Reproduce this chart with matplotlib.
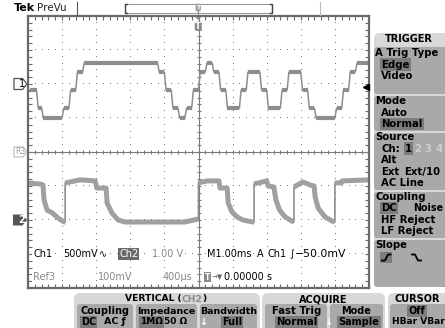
import numpy as np
import matplotlib.pyplot as plt
from matplotlib.patches import FancyBboxPatch, Polygon, Rectangle
from matplotlib.ticker import MultipleLocator

plt.rcParams['font.family'] = ['DejaVu Sans']

# ---- waveforms (time in ms, amplitude in V) ----
# Ch1: 500 mV/div, ground marker 2 div above centre
ch1_v_per_div = 0.5
ch1_offset_div = 2.0
ch1_edge_ms = [-5.0, -4.75, -4.6, -4.0, -3.8, -3.6, -3.4, -1.2, -1.0, -0.8, -0.6,
               -0.4, -0.2, 0.0, 0.2, 0.4, 0.6, 0.8, 1.2, 1.4, 1.8, 2.0, 2.4, 2.6,
               3.0, 3.2, 3.4, 4.0, 4.2, 4.4, 4.6]
ch1_level_v = [-0.09, -0.355, -0.5, -0.355, -0.09, 0.175, 0.31, 0.175, -0.09, -0.355, -0.5,
               -0.355, -0.09, 0.175, 0.31, 0.175, -0.09, -0.355, -0.09, 0.175, -0.09, -0.355, -0.09, 0.175,
               -0.09, -0.355, -0.5, -0.355, -0.09, 0.175, 0.31]

# Ch2: 1.00 V/div, ground marker 2 div below centre
ch2_v_per_div = 1.0
ch2_offset_div = -2.0
ch2_t_ms = [-5.0, -4.65, -4.56, -4.53, -4.44, -4.29, -4.12, -3.94, -3.91,
            -3.91, -3.47, -3.03, -2.98, -2.71, -2.68, -2.54, -2.36, -2.15, -0.4, -0.01, 0.0,
            0.0, 0.25, 0.6, 0.63, 0.84, 0.87, 0.98, 1.13, 1.3, 1.6, 1.63,
            1.63, 2.0, 2.04, 2.21, 2.27, 2.38, 2.54, 2.74, 2.8,
            2.8, 3.06, 3.27, 3.39, 3.42, 3.51, 3.71, 3.92, 4.0,
            4.0, 4.18, 4.21, 5.0]
ch2_v = [1.09, 1.06, 1.03, 0.59, 0.29, 0.21, 0.06, -0.06, -0.06,
         1.09, 1.18, 1.15, 0.94, 0.94, 0.5, 0.21, 0.0, -0.06, -0.06, 0.03, 0.03,
         1.09, 1.15, 1.15, 0.94, 0.94, 0.5, 0.24, 0.09, 0.0, -0.06, -0.06,
         1.06, 1.15, 1.0, 0.97, 0.59, 0.29, 0.09, -0.03, -0.06,
         0.97, 1.12, 1.03, 1.0, 0.68, 0.35, 0.09, -0.03, -0.06,
         1.09, 1.09, 1.15, 1.18]

trig_level_v = -0.05

W, H = 445, 328
gl, gt, gr, gb = 28, 16, 369, 288          # graticule edges in pixels
div_px = (gb - gt) / 8

trace = '#8e8e8e'
trace2 = '#a0a0a0'
grid_c = '#7a7a7a'
frame_c = '#6a6a6a'
light = '#d8d8d8'
mid = '#a9a9a9'
hl = '#7c7c7c'

fig = plt.figure(figsize=(W / 100, H / 100), dpi=100, facecolor='white')
scope = fig.add_axes([gl / W, 1 - gb / H, (gr - gl) / W, (gb - gt) / H], zorder=1)
ui = fig.add_axes([0, 0, 1, 1], zorder=2)
ui.set_xlim(0, W)
ui.set_ylim(H, 0)
ui.axis('off')

# ---- graticule ----
scope.set_xlim(-5, 5)
scope.set_ylim(-4, 4)
for s in scope.spines.values():
    s.set_color(frame_c)
    s.set_linewidth(1.6)
scope.xaxis.set_major_locator(MultipleLocator(1))
scope.xaxis.set_minor_locator(MultipleLocator(0.2))
scope.yaxis.set_major_locator(MultipleLocator(1))
scope.yaxis.set_minor_locator(MultipleLocator(0.2))
scope.tick_params(which='both', direction='in', top=True, right=True, length=3,
                  width=0.8, color=frame_c, labelbottom=False, labelleft=False)

fine_x = np.arange(-5, 5.01, 0.2)
fine_y = np.arange(-4, 4.01, 0.2)
for g in range(-4, 5):
    if g != 0:
        scope.plot(np.full(fine_y.size, g), fine_y, ',', color=grid_c)
for g in range(-3, 4):
    if g != 0:
        scope.plot(fine_x, np.full(fine_x.size, g), ',', color=grid_c)
scope.axhline(0, color=grid_c, lw=0.8)
scope.axvline(0, color=grid_c, lw=0.8)
scope.plot(fine_x, np.zeros(fine_x.size), '|', color=grid_c, ms=3.5, mew=0.8)
scope.plot(np.zeros(fine_y.size), fine_y, '_', color=grid_c, ms=3.5, mew=0.8)

# ---- Ch1 staircase ----
rise = 0.05
ends = ch1_edge_ms[1:] + [5.0]
ch1_div = [v / ch1_v_per_div + ch1_offset_div for v in ch1_level_v]
px, py = [], []
for i, (t0, t1, y) in enumerate(zip(ch1_edge_ms, ends, ch1_div)):
    px += [t0 + (rise if i else 0), t1]
    py += [y, y]
scope.plot(px, py, color=trace, lw=1.1)
scope.hlines(ch1_div, [t + rise for t in ch1_edge_ms], ends, color=trace, lw=3.0)

# ---- Ch2 ----
t2 = np.array(ch2_t_ms)
y2 = np.array(ch2_v) / ch2_v_per_div + ch2_offset_div
scope.plot(t2, y2, color=trace, lw=1.2)
cuts = [0] + [i for i in range(1, t2.size) if t2[i] == t2[i - 1]] + [t2.size]
for a, b in zip(cuts[:-1], cuts[1:]):
    scope.plot(t2[a:b], y2[a:b], color=trace2, lw=3.6, solid_capstyle='butt')

# trigger level arrow
scope.plot(4.9, trig_level_v / ch1_v_per_div + ch1_offset_div, marker='<', ms=5,
           color='black', clip_on=False, zorder=5)


def txt(x, y, s, size=7, weight='normal', color='black', ha='left', box=None, **kw):
    bb = None
    if box is not None:
        bb = dict(boxstyle='square,pad=0.12', fc=box, ec='none')
    return ui.text(x, y, s, fontsize=size, fontweight=weight, color=color, ha=ha, va='center',
                   bbox=bb, zorder=6, **kw)


# ---- top bar ----
txt(14, 8, 'Tek', size=8, weight='bold')
txt(37, 8, 'PreVu', size=7.5, color='#222222')
ui.plot([77, 77], [2, 15], color='#555555', lw=0.8)
ui.plot([320, 320], [2, 15], color='#bbbbbb', lw=0.8)
ui.add_patch(Rectangle((125, 4), 147, 9, fc='none', ec='#999999', lw=0.8))
ui.plot([127, 125, 125, 127], [4, 4, 13, 13], color='#444444', lw=1)
ui.plot([270, 272, 272, 270], [4, 4, 13, 13], color='#444444', lw=1)
ui.add_patch(FancyBboxPatch((196, 4), 4.5, 7, boxstyle='round,pad=0.4,rounding_size=1.5',
                            fc='#a0a0a0', ec='none', zorder=4))
ui.text(198.2, 7.8, 'T', fontsize=4.5, color='white', ha='center', va='center', zorder=5,
        weight='bold')
ui.plot([198.2, 198.2], [11, 15], color='#888888', lw=0.8)

# trigger position marker in the graticule
ui.add_patch(Polygon([(195.5, 17), (201, 17), (198.2, 20)], closed=True, fc='#888888', ec='none'))
ui.add_patch(FancyBboxPatch((195, 22), 6.5, 8.5, boxstyle='round,pad=0.3,rounding_size=2',
                            fc='#8a8a8a', ec='none', zorder=4))
ui.text(198.2, 26.5, 'T', fontsize=6, color='white', ha='center', va='center', zorder=5,
        weight='bold')

# ---- channel markers ----
y1 = gt + (4 - ch1_offset_div) * div_px
y2m = gt + (4 - ch2_offset_div) * div_px
ycen = gt + 4 * div_px
ui.add_patch(Polygon([(14, y1 - 5.5), (22.5, y1 - 5.5), (27, y1), (22.5, y1 + 5.5), (14, y1 + 5.5)],
                     closed=True, fc='white', ec='#555555', lw=0.9))
txt(18.5, y1, '1', size=7)
ui.add_patch(Polygon([(14, ycen - 5), (23, ycen - 5), (27, ycen), (23, ycen + 5), (14, ycen + 5)],
                     closed=True, fc='white', ec='#bbbbbb', lw=0.8))
txt(20, ycen, 'R3', size=5.5, color='#999999', ha='center')
ui.add_patch(Polygon([(13, y2m - 5.5), (22.5, y2m - 5.5), (27, y2m), (22.5, y2m + 5.5), (13, y2m + 5.5)],
                     closed=True, fc='#555555', ec='none'))
txt(18, y2m, '2', size=7, weight='bold', color='white')

# ---- readouts ----
wb = 'white'
txt(33, 254, 'Ch1', box=wb)
txt(63, 254, '500mV', box=wb)
txt(99, 254, '\u223f', box=wb)
txt(119, 254, 'Ch2', color='white', box='#6a6a6a')
txt(152, 254, '1.00 V', color='#888888', box=wb)
txt(207, 254, 'M1.00ms', box=wb)
txt(257, 254, 'A', box=wb)
txt(268, 254, 'Ch1', box=wb)
txt(289, 254, '\u222b', box=wb)
txt(295, 254, '\u221250.0mV', size=7.8, box=wb)
txt(33, 277, 'Ref3', color='#888888', box=wb)
txt(98, 277, '100mV', color='#888888', box=wb)
txt(163, 277, '400\u00b5s', color='#888888', box=wb)
txt(205, 277, 'T', size=5.5, weight='bold', color='white', box='#8a8a8a')
txt(212, 277, '\u2192\u25bc', size=5, color='#666666', box=wb)
txt(224, 277, '0.00000 s', box=wb)

# ---- TRIGGER side menu ----
ui.add_patch(FancyBboxPatch((374, 33), 90, 254, boxstyle='round,pad=0,rounding_size=6',
                            fc=light, ec='none'))
for top, bot in [(47, 94), (96, 131), (133, 190), (192, 238), (240, 287)]:
    ui.add_patch(FancyBboxPatch((374, top), 90, bot - top,
                                boxstyle='round,pad=0,rounding_size=3', fc=mid, ec='none'))
txt(409, 39.5, 'TRIGGER', ha='center', weight='bold')
menu = [('A Trig Type', 375, 53, None), ('Edge', 381, 64.5, hl), ('Video', 381, 76, None),
        ('Mode', 375, 101, None), ('Auto', 381, 112.5, None), ('Normal', 381, 124, hl),
        ('Source', 375, 137, None), ('Ch:', 381, 148.5, None), ('Alt', 381, 160, None),
        ('Ext', 381, 172, None), ('Ext/10', 404, 172, None), ('AC Line', 381, 183, None),
        ('Coupling', 375, 197, None), ('DC', 381, 208, hl),
        ('HF Reject', 381, 220, None), ('LF Reject', 381, 231, None), ('Slope', 375, 245, None)]
for s, x, y, b in menu:
    txt(x, y, s, size=7.3, weight='bold', box=b)
txt(413, 208, 'Noise', size=6.9, weight='bold')
txt(405, 148.5, '1', size=7.3, weight='bold', box=hl)
for s, x in [('2', 414), ('3', 424), ('4', 435)]:
    txt(x, 148.5, s, size=7.3, weight='bold', color='#cfcfcf')
ui.add_patch(Rectangle((380, 252), 12, 11, fc=hl, ec='none'))
ui.plot([382, 385, 388, 390.5], [260.5, 260.5, 254.5, 254.5], color='black', lw=1.3)
ui.plot([412, 415, 418, 421], [254.5, 254.5, 260.5, 260.5], color='black', lw=1.3)


# ---- bottom menus ----
def panel(x0, w, boxes):
    ui.add_patch(FancyBboxPatch((x0, 293), w, 45, boxstyle='round,pad=0,rounding_size=6',
                                fc=light, ec='none'))
    for bx, bw in boxes:
        ui.add_patch(FancyBboxPatch((bx, 304), bw, 30, boxstyle='round,pad=0,rounding_size=3',
                                    fc=mid, ec='none'))


panel(74, 186, [(77, 56), (136, 61), (200, 57)])
panel(262, 123, [(265, 62), (330, 53)])
panel(388, 70, [(390, 60)])

head = txt(125, 299, 'VERTICAL (', size=6.6, weight='bold')
part = ui.annotate('CH2', xy=(1, 0.5), xycoords=head, va='center', ha='left',
                   fontsize=6.6, fontweight='bold', color='#8a8a8a', zorder=6)
ui.annotate(')', xy=(1, 0.5), xycoords=part, va='center', ha='left',
            fontsize=6.6, fontweight='bold', zorder=6)
txt(323, 299, 'ACQUIRE', ha='center', weight='bold')
txt(417, 299, 'CURSOR', ha='center', weight='bold')

txt(105, 311, 'Coupling', ha='center', weight='bold')
txt(166.5, 311, 'Impedance', ha='center', weight='bold', size=6.8)
txt(229, 311, 'Bandwidth', ha='center', weight='bold', size=6.8)
txt(81, 322, 'DC', weight='bold', box=hl)
txt(104, 322, 'AC \u0192', weight='bold', size=6.8)
txt(140, 322, '1M\u03a9', weight='bold', box=hl, size=6.5)
txt(164, 322, '50 \u03a9', weight='bold', size=6.5)
txt(203, 322, '\u2193', weight='bold', color='white', ha='center')
txt(232, 322, 'Full', weight='bold', box=hl, ha='center')

txt(296.5, 311, 'Fast Trig', ha='center', weight='bold', size=7.3)
txt(296.5, 322, 'Normal', ha='center', weight='bold', box=hl, size=7.3)
txt(328.5, 322, '\u2193', weight='bold', color='white', ha='center')
txt(356.5, 311, 'Mode', ha='center', weight='bold')
txt(359, 322, 'Sample', ha='center', weight='bold', box=hl)

txt(417, 311, 'Off', ha='center', weight='bold', box=hl)
txt(418, 322, 'HBar VBar', ha='center', weight='bold', size=6.5)

fig.savefig('out.png', dpi=100, facecolor='white')
